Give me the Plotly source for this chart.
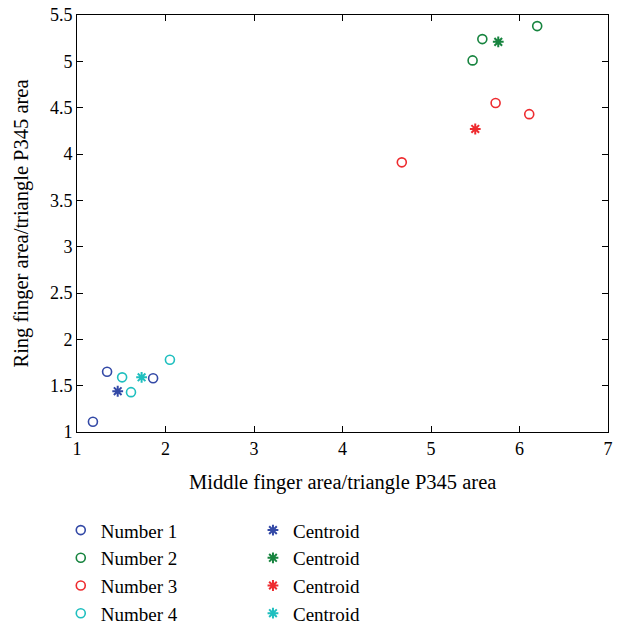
import plotly.graph_objects as go

# Data
n1_x = [1.18, 1.34, 1.86]
n1_y = [1.11, 1.65, 1.58]
n2_x = [5.47, 5.58, 6.20]
n2_y = [5.01, 5.24, 5.38]
n3_x = [4.67, 5.73, 6.11]
n3_y = [3.91, 4.55, 4.43]
n4_x = [1.51, 1.61, 2.05]
n4_y = [1.59, 1.43, 1.78]
cent_x = [1.46, 5.76, 5.50, 1.73]
cent_y = [1.44, 5.21, 4.27, 1.59]

names = ["Number 1", "Number 2", "Number 3", "Number 4"]
colors = ["#3349a6", "#17843f", "#ee2b2f", "#1fbfbf"]
groups = [(n1_x, n1_y), (n2_x, n2_y), (n3_x, n3_y), (n4_x, n4_y)]
x_title = "Middle finger area/triangle P345 area"
y_title = "Ring finger area/triangle P345 area"

FONT = "Liberation Serif"

fig = go.Figure()
for (xs, ys), name, c in zip(groups, names, colors):
    fig.add_trace(go.Scatter(
        x=xs, y=ys, mode="markers", name=name, legend="legend",
        marker=dict(symbol="circle-open", size=9, color=c, line=dict(width=1.6, color=c)),
    ))
for i, c in enumerate(colors):
    fig.add_trace(go.Scatter(
        x=[cent_x[i]], y=[cent_y[i]], mode="markers", name="Centroid", legend="legend2",
        marker=dict(symbol="asterisk-open", size=9, color=c, line=dict(width=2, color=c)),
    ))

axis_common = dict(
    showline=True, linecolor="black", linewidth=1, mirror="ticks",
    ticks="inside", ticklen=6, tickcolor="black", showgrid=False, zeroline=False,
    tickfont=dict(family=FONT, size=18, color="black"),
)

fig.update_layout(
    width=620, height=625,
    margin=dict(l=77, r=12, t=15, b=193, autoexpand=False),
    paper_bgcolor="white", plot_bgcolor="white",
    font=dict(family=FONT, color="black"),
    xaxis=dict(range=[1, 7], dtick=1, **axis_common),
    yaxis=dict(range=[1, 5.5], dtick=0.5, **axis_common),
    legend=dict(xref="container", yref="container", x=0.098, y=0.182, xanchor="left", yanchor="top",
                font=dict(family=FONT, size=19), bgcolor="rgba(0,0,0,0)", itemwidth=30,
                tracegroupgap=0),
    legend2=dict(xref="container", yref="container", x=0.408, y=0.182, xanchor="left", yanchor="top",
                 font=dict(family=FONT, size=19), bgcolor="rgba(0,0,0,0)", itemwidth=30,
                 tracegroupgap=0),
    annotations=[
        dict(text=x_title, xref="paper", yref="paper", x=0.5, y=0, yshift=-50,
             xanchor="center", yanchor="middle", showarrow=False,
             font=dict(family=FONT, size=20.5, color="black")),
        dict(text=y_title, xref="paper", yref="paper", x=0, y=0.5, xshift=-56, textangle=-90,
             xanchor="center", yanchor="middle", showarrow=False,
             font=dict(family=FONT, size=20.5, color="black")),
    ],
)

fig.write_html("out.html")
